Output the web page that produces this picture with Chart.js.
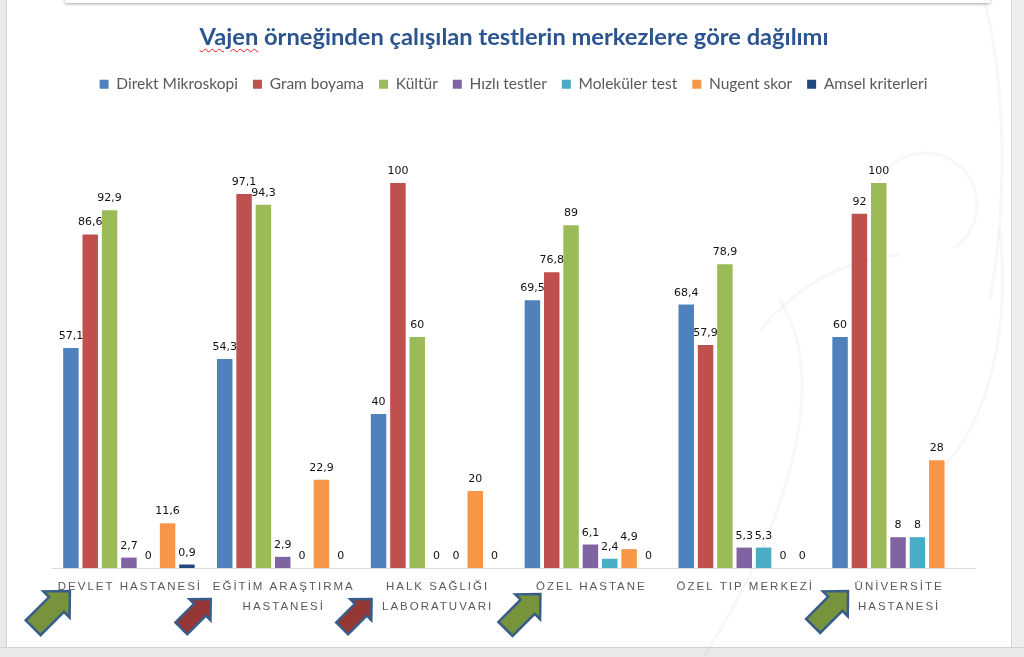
<!DOCTYPE html>
<html>
<head>
<meta charset="utf-8">
<script src="https://cdn.jsdelivr.net/npm/chart.js@4"></script>
<style>
  html, body { margin: 0; padding: 0; background: #fff; }
  #wrap { position: relative; width: 1024px; height: 657px; overflow: hidden; background: #fff; }
  .frame { position: absolute; background: #e9e9e9; }
  #fl { left: 0; top: 0; width: 6px; height: 657px; border-right: 1px solid #d2d2d2; }
  #fr { right: 0; top: 0; width: 12px; height: 657px; border-left: 1px solid #d6d6d6; background: #eeeeee; }
  #fb { left: 0; bottom: 0; width: 1024px; height: 9px; border-top: 1px solid #d2d2d2; }
  #ft { left: 65px; top: -10px; width: 925px; height: 13px; background: #fff; box-shadow: 0 1px 3px rgba(0,0,0,.35); }
  #title {
    position: absolute; left: 0; top: 22px; width: 1028px; text-align: center;
    font-family: Lato, "Open Sans", sans-serif; font-weight: bold; font-size: 23.7px;
    color: #2c5590; z-index: 3;
  }
  #title .sp { text-decoration: underline wavy #e02020; text-decoration-thickness: 1px; text-underline-offset: 3px; }
  #cv { position: absolute; left: 0; top: 0; z-index: 2; }
</style>
</head>
<body>
<div id="wrap">
  <div class="frame" id="ft"></div>
  <div class="frame" id="fl"></div>
  <div class="frame" id="fr"></div>
  <div class="frame" id="fb"></div>
  <div id="title"><span class="sp">Vajen</span> örneğinden çalışılan testlerin merkezlere göre dağılımı</div>
  <canvas id="cv" width="1024" height="657"></canvas>
</div>
<script>
// ── data ──
const categories = [
  ['DEVLET HASTANESİ'],
  ['EĞİTİM ARAŞTIRMA', 'HASTANESİ'],
  ['HALK SAĞLIĞI', 'LABORATUVARI'],
  ['ÖZEL HASTANE'],
  ['ÖZEL TIP MERKEZİ'],
  ['ÜNİVERSİTE', 'HASTANESİ']
];
const seriesNames = ['Direkt Mikroskopi', 'Gram boyama', 'Kültür', 'Hızlı testler', 'Moleküler test', 'Nugent skor', 'Amsel kriterleri'];
const direktMikroskopi = [57.1, 54.3, 40, 69.5, 68.4, 60];
const gramBoyama       = [86.6, 97.1, 100, 76.8, 57.9, 92];
const kultur           = [92.9, 94.3, 60, 89, 78.9, 100];
const hizliTestler     = [2.7, 2.9, 0, 6.1, 5.3, 8];
const molekulerTest    = [0, 0, 0, 2.4, 5.3, 8];
const nugentSkor       = [11.6, 22.9, 20, 4.9, 0, 28];
const amselKriterleri  = [0.9, 0, 0, 0, 0, null];
const seriesColors = ['#4f81bd', '#c0504d', '#9bbb59', '#8064a2', '#4bacc6', '#f79646', '#1f497d'];

// decorative arrows under some categories: [category index, tip dx, tip y, scale, colour]
const arrows = [
  [0, -59, 591, 1.0, '#77933c'],
  [1, -72, 599, 0.8, '#953735'],
  [2, -65, 599, 0.8, '#953735'],
  [3, -50, 594, 0.95, '#77933c'],
  [5, -50, 591, 0.95, '#77933c']
];

const allSeries = [direktMikroskopi, gramBoyama, kultur, hizliTestler, molekulerTest, nugentSkor, amselKriterleri];

function fmt(v) { return String(v).replace('.', ','); }

function drawArrow(ctx, tx, ty, s, col) {
  const H = 19 * s, W = 37 * s, S = 21 * s, L = 52 * s;
  const d = [Math.SQRT1_2, -Math.SQRT1_2], n = [Math.SQRT1_2, Math.SQRT1_2];
  const pts = [[0, 0], [-H, W / 2], [-H, S / 2], [-L, S / 2], [-L, -S / 2], [-H, -S / 2], [-H, -W / 2]];
  ctx.beginPath();
  pts.forEach((p, i) => {
    const x = tx + p[0] * d[0] + p[1] * n[0], y = ty + p[0] * d[1] + p[1] * n[1];
    i ? ctx.lineTo(x, y) : ctx.moveTo(x, y);
  });
  ctx.closePath();
  ctx.fillStyle = col; ctx.fill();
  ctx.strokeStyle = '#385d8a'; ctx.lineWidth = 2.5; ctx.lineJoin = 'miter'; ctx.stroke();
}

// faint background swirl
const swirlPlugin = {
  id: 'swirl',
  beforeDraw(chart) {
    const ctx = chart.ctx;
    ctx.save();
    ctx.strokeStyle = 'rgba(120,120,110,.06)';
    ctx.lineWidth = 3;
    ctx.shadowColor = 'rgba(0,0,0,.08)'; ctx.shadowBlur = 5;
    ctx.beginPath(); ctx.moveTo(984, 0); ctx.bezierCurveTo(1003, 70, 1010, 190, 990, 300); ctx.stroke();
    ctx.beginPath(); ctx.arc(925, 205, 52, Math.PI * 0.95, Math.PI * 2.3); ctx.stroke();
    ctx.beginPath(); ctx.moveTo(760, 330); ctx.quadraticCurveTo(820, 260, 900, 255); ctx.stroke();
    ctx.beginPath(); ctx.moveTo(705, 655); ctx.bezierCurveTo(790, 520, 830, 380, 780, 300); ctx.stroke();
    ctx.beginPath(); ctx.moveTo(1000, 230); ctx.bezierCurveTo(1010, 330, 990, 420, 940, 470); ctx.stroke();
    ctx.restore();
  }
};

// value labels, category labels, arrows
const labelPlugin = {
  id: 'labels',
  afterDatasetsDraw(chart) {
    const ctx = chart.ctx;
    ctx.save();
    ctx.font = '11px "DejaVu Sans", Verdana, sans-serif';
    ctx.fillStyle = '#111';
    ctx.textAlign = 'center';
    ctx.textBaseline = 'alphabetic';
    chart.data.datasets.forEach((ds, di) => {
      const meta = chart.getDatasetMeta(di);
      meta.data.forEach((el, i) => {
        const v = ds.data[i];
        if (v === null || v === undefined) return;
        ctx.fillText(fmt(v), el.x, el.y - 9);
      });
    });
    ctx.restore();

    const xs = chart.scales.x;
    ctx.save();
    ctx.font = '11.5px "Liberation Sans", Arial, sans-serif';
    ctx.fillStyle = '#595959';
    ctx.textAlign = 'center';
    ctx.textBaseline = 'middle';
    ctx.letterSpacing = '2px';
    categories.forEach((lines, i) => {
      const x = xs.getPixelForTick(i) + 1;
      lines.forEach((t, j) => ctx.fillText(t, x, chart.chartArea.bottom + 19 + j * 20));
    });
    ctx.restore();

    ctx.save();
    arrows.forEach(a => drawArrow(ctx, xs.getPixelForTick(a[0]) + a[1], a[2], a[3], a[4]));
    ctx.restore();
  }
};

new Chart(document.getElementById('cv'), {
  type: 'bar',
  data: {
    labels: categories,
    datasets: seriesNames.map((name, i) => ({
      label: name,
      data: allSeries[i],
      backgroundColor: seriesColors[i],
      borderWidth: 0,
      categoryPercentage: 0.88,
      barPercentage: 0.8
    }))
  },
  options: {
    responsive: false,
    animation: false,
    layout: { padding: { top: 61.5, left: 52, right: 49, bottom: 81 } },
    plugins: {
      legend: {
        position: 'top',
        labels: {
          boxWidth: 9, boxHeight: 9, padding: 15,
          color: '#595959',
          font: { size: 15.5, family: 'Lato, "Liberation Sans", sans-serif' }
        }
      },
      title: { display: false },
      tooltip: { enabled: false }
    },
    scales: {
      x: {
        grid: { display: false },
        border: { display: true, color: '#d9d9d9', width: 1 },
        ticks: { display: false }
      },
      y: {
        display: false,
        min: 0, max: 121
      }
    }
  },
  plugins: [swirlPlugin, labelPlugin]
});
</script>
</body>
</html>
